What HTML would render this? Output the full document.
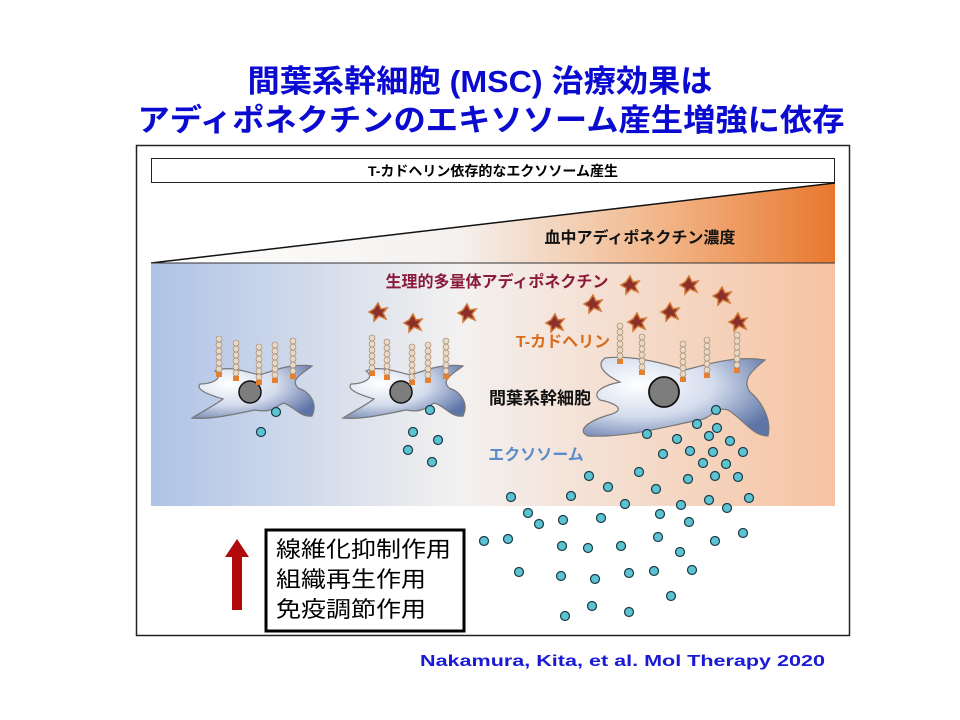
<!DOCTYPE html>
<html><head><meta charset="utf-8"><style>
html,body{margin:0;padding:0;background:#fff;width:960px;height:720px;overflow:hidden}
svg{display:block}
text{font-family:"Liberation Sans","Noto Sans CJK JP",sans-serif}
</style></head><body>
<svg width="960" height="720" viewBox="0 0 960 720" xmlns="http://www.w3.org/2000/svg">
<defs>
<linearGradient id="tri" x1="0" x2="1" y1="0" y2="0">
<stop offset="0" stop-color="#ffffff"/><stop offset="0.45" stop-color="#f4f1ee"/><stop offset="0.75" stop-color="#f2b588"/><stop offset="1" stop-color="#e8782e"/></linearGradient>
<linearGradient id="band" x1="0" x2="1" y1="0" y2="0">
<stop offset="0" stop-color="#afc3e6"/><stop offset="0.45" stop-color="#f3f1f0"/><stop offset="1" stop-color="#f6c3a2"/></linearGradient>
<radialGradient id="cell" cx="0.3" cy="0.35" r="0.8">
<stop offset="0" stop-color="#ffffff"/><stop offset="0.5" stop-color="#d4dced"/><stop offset="1" stop-color="#5d74a6"/></radialGradient>
<g id="star"><path d="M0,-9 L3,-3 L9,-4 L5,1 L8,7 L1,4 L-4,9 L-4,3 L-9,0 L-4,-3 Z" fill="#8a2f2a" stroke="#d27a3a" stroke-width="1.5"/></g>
<g id="chain">
<rect x="-3" y="0" width="6" height="5" fill="#e67f2e"/>
<circle cx="0" cy="-3" r="3" fill="#e9d8c4" stroke="#9c8066" stroke-width="0.6"/>
<circle cx="0" cy="-9" r="3" fill="#e9d8c4" stroke="#9c8066" stroke-width="0.6"/>
<circle cx="0" cy="-15" r="3" fill="#e9d8c4" stroke="#9c8066" stroke-width="0.6"/>
<circle cx="0" cy="-21" r="3" fill="#e9d8c4" stroke="#9c8066" stroke-width="0.6"/>
<circle cx="0" cy="-27" r="3" fill="#e9d8c4" stroke="#9c8066" stroke-width="0.6"/>
<circle cx="0" cy="-33" r="3" fill="#e9d8c4" stroke="#9c8066" stroke-width="0.6"/>
</g>
</defs>

<text x="480" y="92" text-anchor="middle" font-size="31" font-weight="bold" fill="#0a0ad0" textLength="465" lengthAdjust="spacingAndGlyphs">間葉系幹細胞 (MSC) 治療効果は</text>
<text x="491" y="131" text-anchor="middle" font-size="31" font-weight="bold" fill="#0a0ad0" textLength="707" lengthAdjust="spacingAndGlyphs">アディポネクチンのエキソソーム産生増強に依存</text>

<rect x="136.5" y="145.5" width="713" height="490" fill="#fff" stroke="#222" stroke-width="1.5"/>
<rect x="151.5" y="158.5" width="683" height="24" fill="#fff" stroke="#222" stroke-width="1"/>
<text x="493" y="176" text-anchor="middle" font-size="14" font-weight="bold" fill="#000">T-カドヘリン依存的なエクソソーム産生</text>

<polygon points="151,263 835,183 835,263" fill="url(#tri)"/>
<line x1="151" y1="263" x2="835" y2="183" stroke="#111" stroke-width="1.5"/>
<text x="640" y="243" text-anchor="middle" font-size="16" font-weight="bold" fill="#111">血中アディポネクチン濃度</text>

<rect x="151" y="263" width="684" height="243" fill="url(#band)"/>
<line x1="151" y1="263" x2="835" y2="263" stroke="#333" stroke-width="1"/>

<text x="497" y="287" text-anchor="middle" font-size="16" font-weight="bold" fill="#8a1a3c">生理的多量体アディポネクチン</text>
<text x="563" y="347" text-anchor="middle" font-size="16" font-weight="bold" fill="#d86c1e">T-カドヘリン</text>
<text x="540" y="404" text-anchor="middle" font-size="17" font-weight="bold" fill="#111">間葉系幹細胞</text>
<text x="536" y="460" text-anchor="middle" font-size="16" font-weight="bold" fill="#5b8ccc">エクソソーム</text>

<!-- cell 1 -->
<path d="M215,371 C230,365 245,372 260,375 C275,370 292,363 312,366 C300,375 290,380 298,388 C310,392 318,403 312,416 C300,418 293,405 283,403 C275,408 270,413 255,410 C235,414 210,420 192,418 C205,410 215,405 223,399 C210,395 195,390 200,384 C212,384 225,378 215,371 Z" fill="url(#cell)" stroke="#777" stroke-width="1.2"/>
<circle cx="250" cy="392" r="11" fill="#7d7d7d" stroke="#111" stroke-width="1.5"/>
<!-- cell 2 -->
<path d="M366,371 C381,365 396,372 411,375 C426,370 443,363 463,366 C451,375 441,380 449,388 C461,392 469,403 463,416 C451,418 444,405 434,403 C426,408 421,413 406,410 C386,414 361,420 343,418 C356,410 366,405 374,399 C361,395 346,390 351,384 C363,384 376,378 366,371 Z" fill="url(#cell)" stroke="#777" stroke-width="1.2"/>
<circle cx="401" cy="392" r="11" fill="#7d7d7d" stroke="#111" stroke-width="1.5"/>
<!-- cell 3 -->
<path d="M605,358 C630,355 660,362 685,370 C705,365 735,355 765,360 C750,372 742,380 750,392 C762,402 772,420 768,436 C752,436 742,418 728,410 C715,406 712,418 700,420 C670,425 630,438 588,436 C575,430 590,420 612,414 C628,408 610,402 600,400 C590,392 605,385 620,382 C605,375 595,365 605,358 Z" fill="url(#cell)" stroke="#777" stroke-width="1.2"/>
<circle cx="664" cy="392" r="15" fill="#7d7d7d" stroke="#111" stroke-width="1.8"/>

<!-- chains -->
<use href="#chain" x="219" y="372"/><use href="#chain" x="236" y="376"/><use href="#chain" x="259" y="380"/><use href="#chain" x="275" y="378"/><use href="#chain" x="293" y="374"/>
<use href="#chain" x="372" y="371"/><use href="#chain" x="387" y="375"/><use href="#chain" x="412" y="380"/><use href="#chain" x="428" y="378"/><use href="#chain" x="446" y="374"/>
<use href="#chain" x="620" y="359"/><use href="#chain" x="642" y="370"/><use href="#chain" x="683" y="377"/><use href="#chain" x="707" y="373"/><use href="#chain" x="737" y="368"/>

<!-- stars -->
<use href="#star" x="378" y="312"/><use href="#star" x="413" y="323"/><use href="#star" x="467" y="313"/>
<use href="#star" x="555" y="323"/><use href="#star" x="593" y="304"/><use href="#star" x="637" y="322"/>
<use href="#star" x="630" y="285"/><use href="#star" x="689" y="285"/><use href="#star" x="722" y="296"/>
<use href="#star" x="670" y="312"/><use href="#star" x="738" y="322"/>

<!-- exosomes -->
<g fill="#5cc3d3" stroke="#1b3a46" stroke-width="1.2">
<circle cx="276" cy="412" r="4.5"/><circle cx="261" cy="432" r="4.5"/>
<circle cx="430" cy="410" r="4.5"/><circle cx="413" cy="432" r="4.5"/><circle cx="438" cy="440" r="4.5"/><circle cx="408" cy="450" r="4.5"/><circle cx="432" cy="462" r="4.5"/>
<circle cx="716" cy="410" r="4.5"/><circle cx="697" cy="424" r="4.5"/><circle cx="717" cy="428" r="4.5"/><circle cx="709" cy="436" r="4.5"/><circle cx="730" cy="441" r="4.5"/><circle cx="647" cy="434" r="4.5"/><circle cx="677" cy="439" r="4.5"/><circle cx="690" cy="451" r="4.5"/><circle cx="713" cy="452" r="4.5"/><circle cx="743" cy="452" r="4.5"/><circle cx="663" cy="454" r="4.5"/><circle cx="703" cy="463" r="4.5"/><circle cx="726" cy="464" r="4.5"/><circle cx="639" cy="472" r="4.5"/><circle cx="688" cy="479" r="4.5"/><circle cx="715" cy="476" r="4.5"/><circle cx="738" cy="477" r="4.5"/><circle cx="589" cy="476" r="4.5"/><circle cx="608" cy="487" r="4.5"/><circle cx="656" cy="489" r="4.5"/><circle cx="511" cy="497" r="4.5"/><circle cx="571" cy="496" r="4.5"/><circle cx="625" cy="504" r="4.5"/><circle cx="681" cy="505" r="4.5"/><circle cx="709" cy="500" r="4.5"/><circle cx="727" cy="508" r="4.5"/><circle cx="749" cy="498" r="4.5"/><circle cx="528" cy="513" r="4.5"/><circle cx="539" cy="524" r="4.5"/><circle cx="563" cy="520" r="4.5"/><circle cx="601" cy="518" r="4.5"/><circle cx="660" cy="514" r="4.5"/><circle cx="689" cy="522" r="4.5"/><circle cx="484" cy="541" r="4.5"/><circle cx="508" cy="539" r="4.5"/><circle cx="562" cy="546" r="4.5"/><circle cx="588" cy="548" r="4.5"/><circle cx="621" cy="546" r="4.5"/><circle cx="658" cy="537" r="4.5"/><circle cx="680" cy="552" r="4.5"/><circle cx="715" cy="541" r="4.5"/><circle cx="743" cy="533" r="4.5"/><circle cx="519" cy="572" r="4.5"/><circle cx="561" cy="576" r="4.5"/><circle cx="595" cy="579" r="4.5"/><circle cx="629" cy="573" r="4.5"/><circle cx="654" cy="571" r="4.5"/><circle cx="692" cy="570" r="4.5"/><circle cx="671" cy="596" r="4.5"/><circle cx="592" cy="606" r="4.5"/><circle cx="629" cy="612" r="4.5"/><circle cx="565" cy="616" r="4.5"/>
</g>

<!-- arrow -->
<polygon points="237,539 249,557 242,557 242,610 232,610 232,557 225,557" fill="#b00a0a"/>
<rect x="266" y="530" width="198" height="101" fill="#fff" stroke="#000" stroke-width="3"/>
<text x="276" y="557" font-size="22" fill="#000" textLength="175" lengthAdjust="spacingAndGlyphs">線維化抑制作用</text>
<text x="276" y="587" font-size="22" fill="#000" textLength="150" lengthAdjust="spacingAndGlyphs">組織再生作用</text>
<text x="276" y="617" font-size="22" fill="#000" textLength="150" lengthAdjust="spacingAndGlyphs">免疫調節作用</text>

<text x="420" y="666" font-size="16" font-weight="bold" fill="#1a1ad6" textLength="405" lengthAdjust="spacingAndGlyphs">Nakamura, Kita, et al. Mol Therapy 2020</text>
</svg>
</body></html>
